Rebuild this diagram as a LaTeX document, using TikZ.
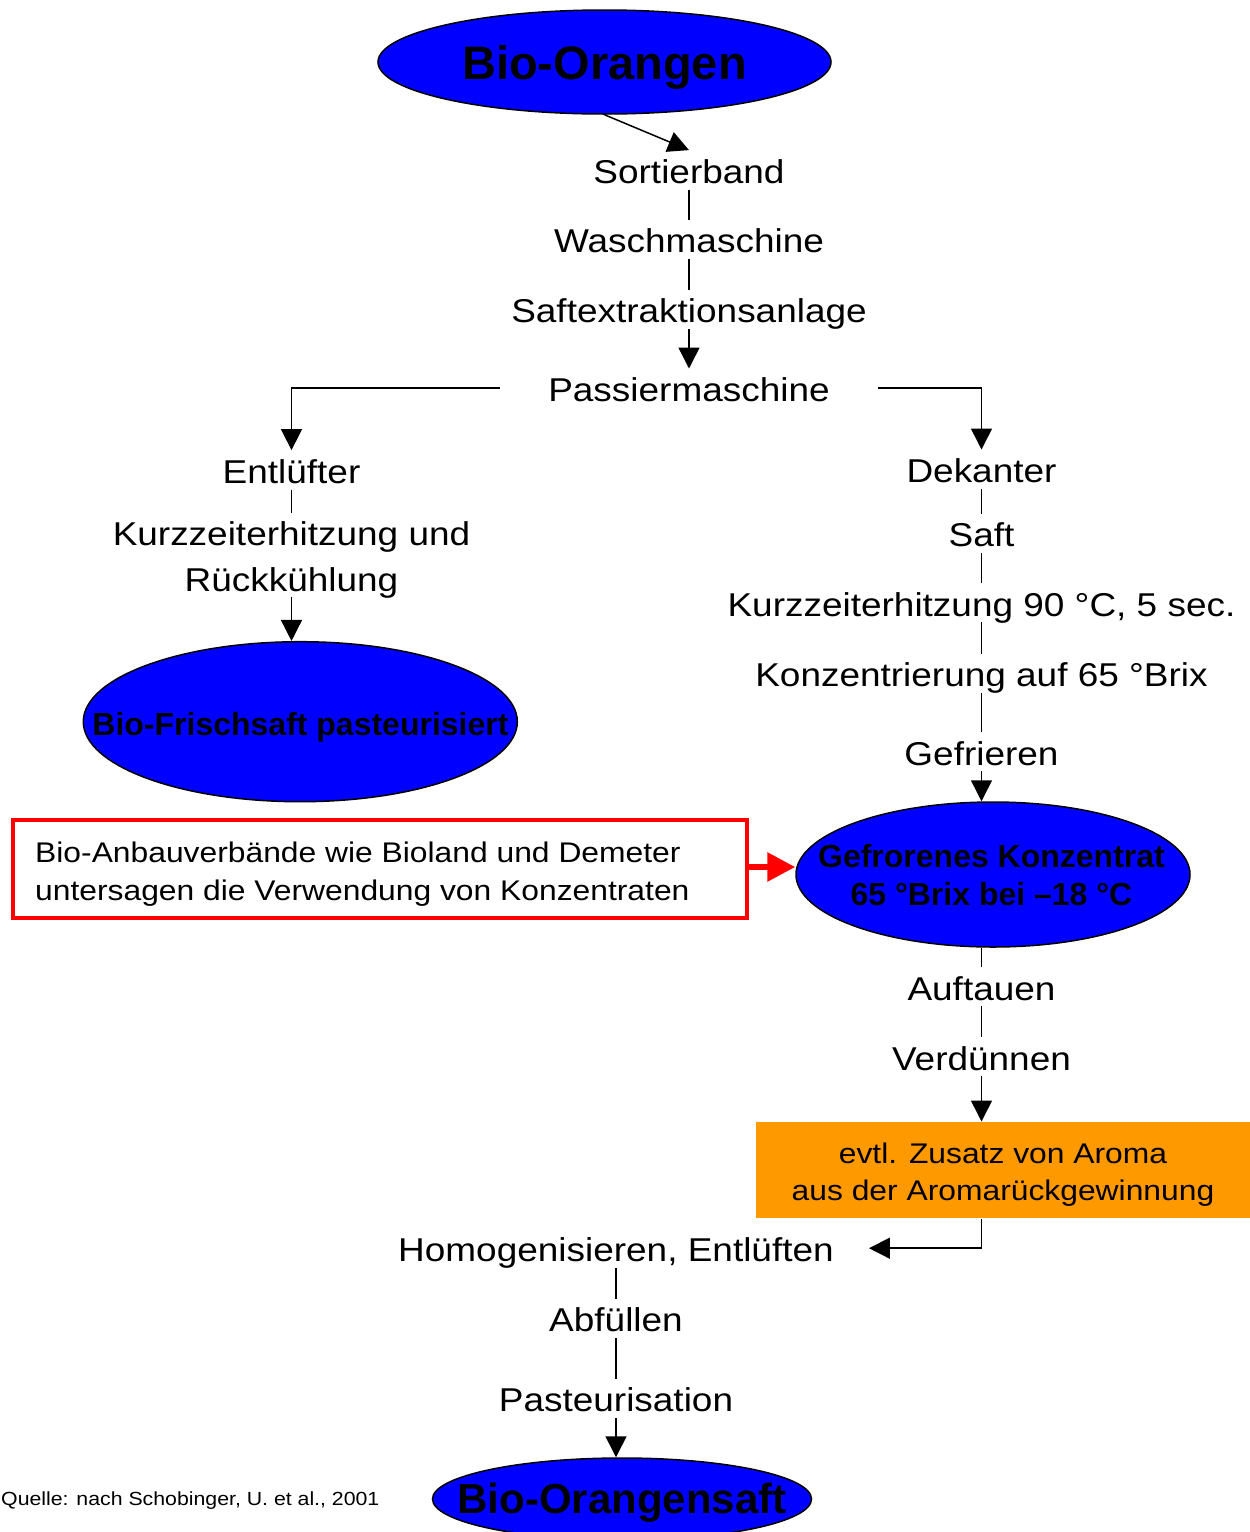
\documentclass[tikz,border=0pt]{standalone}
\usepackage{fontspec}
\setmainfont{Liberation Sans}[FakeStretch=1.12]
\newfontfamily\boldsans{Liberation Sans}
\usetikzlibrary{arrows.meta,positioning,shapes.geometric}
\definecolor{BioBlue}{RGB}{0,0,255}
\definecolor{AromaOrange}{RGB}{255,153,0}
\definecolor{NoteRed}{RGB}{255,0,0}

\begin{document}
\begin{tikzpicture}[x=1pt,y=-1pt,
  stufe/.style={font=\fontsize{33}{40}\selectfont,inner sep=0pt,text height=33pt,text depth=6pt,anchor=base},
  linie/.style={line width=1.5pt},
  pfeil/.style={line width=1.5pt,-{Triangle[length=21pt,width=21pt]}},
  produkt/.style={ellipse,draw=black,line width=1.5pt,fill=BioBlue,inner sep=0pt},
  titel/.style={inner sep=0pt,anchor=base}]
  \useasboundingbox (0,0) rectangle (1250,1532);
  \clip (0,0) rectangle (1250,1532);

  % Rohware
  \node[produkt,minimum width=453pt,minimum height=104pt] (orangen) at (604.5,62) {};
  \node[titel,font=\boldsans\bfseries\fontsize{47}{56}\selectfont] (orangen-t) at (604.5,79.3) {Bio-Orangen};

  % gemeinsame Stufen
  \node[stufe] (sortier) at (689,183.3) {Sortierband};
  \node[stufe] (wasch) at (689,252.7) {Waschmaschine};
  \node[stufe] (extrakt) at (689,322.7) {Saftextraktionsanlage};
  \node[stufe,inner xsep=48.5pt] (passier) at (689,401.7) {Passiermaschine};

  % Frischsaft
  \node[stufe] (entl) at (291.5,483.3) {Entlüfter};
  \node[font=\fontsize{33}{45.7}\selectfont,align=center,inner xsep=0pt,inner ysep=9pt,anchor=north]
    (kurz) at (291.5,512.7) {Kurzzeiterhitzung und\\Rückkühlung};
  \node[produkt,minimum width=434pt,minimum height=160pt] (frisch) at (300.3,721.7) {};
  \node[titel,font=\boldsans\bfseries\fontsize{32}{38}\selectfont] (frisch-t) at (300.5,735) {Bio-Frischsaft pasteurisiert};

  % Konzentrat
  \node[stufe] (dekant) at (981.5,482.7) {Dekanter};
  \node[stufe] (saft) at (981.5,546.7) {Saft};
  \node[stufe] (erhitz) at (981.5,616) {Kurzzeiterhitzung 90 °C, 5 sec.};
  \node[stufe] (konzent) at (981.5,686.7) {Konzentrierung auf 65 °Brix};
  \node[stufe] (gefrier) at (981.5,765) {Gefrieren};
  \node[produkt,minimum width=394pt,minimum height=145pt] (konz) at (993,874.5) {};
  \node[font=\boldsans\bfseries\fontsize{32}{38.3}\selectfont,align=center,inner sep=0pt,anchor=north]
    (konz-t) at (991.5,843.6) {Gefrorenes Konzentrat\\65 °Brix bei –18 °C};
  \node[draw=NoteRed,line width=4pt,minimum width=734pt,minimum height=98pt] (hinweis) at (380,869) {};
  \node[font=\fontsize{28.4}{38.3}\selectfont,align=left,inner sep=0pt,anchor=north west]
    (hinweis-t) at (35,841.5)
    {Bio-Anbauverbände wie Bioland und Demeter\\untersagen die Verwendung von Konzentraten};

  % Rueckverduennung
  \node[stufe] (auftau) at (981.5,1000) {Auftauen};
  \node[stufe] (verduenn) at (981.5,1070) {Verdünnen};
  \node[fill=AromaOrange,minimum width=494pt,minimum height=96.6pt,inner sep=0pt] (aroma) at (1003,1170) {};
  \node[font=\fontsize{28.4}{37.3}\selectfont,align=center,inner sep=0pt,anchor=north]
    (aroma-t) at (1003,1142.5) {evtl. Zusatz von Aroma\\aus der Aromarückgewinnung};
  \node[stufe,inner xsep=35pt] (homog) at (616,1261.7) {Homogenisieren, Entlüften};
  \node[stufe] (abfuell) at (616,1331.7) {Abfüllen};
  \node[stufe] (pasteur) at (616,1411.7) {Pasteurisation};
  \node[produkt,minimum width=379pt,minimum height=82pt] (osaft) at (622,1499) {};
  \node[titel,font=\boldsans\bfseries\fontsize{42}{50}\selectfont] (osaft-t) at (622,1513.3) {Bio-Orangensaft};

  \node[titel,anchor=base west,font=\fontsize{19}{23}\selectfont] (quelle) at (1,1505)
    {Quelle: nach Schobinger, U. et al., 2001};

  % Verbindungen
  \draw[pfeil] (orangen.south) -- (sortier.north);
  \draw[linie] (sortier.south) -- (wasch.north);
  \draw[linie] (wasch.south) -- (extrakt.north);
  \draw[pfeil] (extrakt.south) -- (passier.north);
  \draw[pfeil] (passier.west) -| (entl.north);
  \draw[pfeil] (passier.east) -| (dekant.north);
  \draw[linie] (entl.south) -- (kurz.north);
  \draw[pfeil] ([yshift=11pt]kurz.south) -- (kurz.south |- frisch.north);
  \draw[linie] (dekant.south) -- (saft.north);
  \draw[linie] (saft.south) -- (erhitz.north);
  \draw[linie] (erhitz.south) -- (konzent.north);
  \draw[linie] (konzent.south) -- (gefrier.north);
  \draw[pfeil] (gefrier.south) -- (gefrier.south |- konz.north);
  \draw[line width=6pt,NoteRed,-{Triangle[length=28pt,width=28pt]}] ([yshift=2pt]hinweis.east) -- ([yshift=2pt]hinweis.east -| konz.west);
  \draw[linie] (auftau.north |- konz.south) -- (auftau.north);
  \draw[linie] (auftau.south) -- (verduenn.north);
  \draw[pfeil] (verduenn.south) -- (verduenn.south |- aroma.north);
  \draw[pfeil] (aroma.south -| verduenn.south) |- (homog.east);
  \draw[linie] (homog.south) -- (abfuell.north);
  \draw[linie] (abfuell.south) -- (pasteur.north);
  \draw[pfeil] (pasteur.south) -- (pasteur.south |- osaft.north);
\end{tikzpicture}
\end{document}
